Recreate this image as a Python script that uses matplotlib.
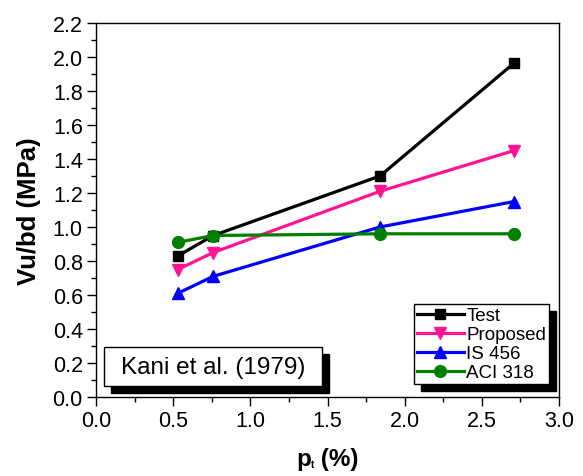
import matplotlib
matplotlib.use("Agg")
import matplotlib.pyplot as plt
from matplotlib.patches import Rectangle
from matplotlib.transforms import ScaledTranslation
from matplotlib.ticker import MultipleLocator

plt.rcParams['font.family'] = ['Liberation Sans', 'DejaVu Sans']

pt = [0.53, 0.76, 1.84, 2.71]
test = [0.83, 0.95, 1.30, 1.965]
proposed = [0.75, 0.85, 1.21, 1.45]
is456 = [0.61, 0.71, 1.00, 1.15]
aci318 = [0.91, 0.95, 0.96, 0.96]

series_names = ["Test", "Proposed", "IS 456", "ACI 318"]
colors = ["#000000", "#FF1493", "#0000FF", "#008000"]
markers = ["s", "v", "^", "o"]
msizes = [7.5, 9, 9, 8.5]
annotation = "Kani et al. (1979)"
xlabel_parts = ["p", "t", " (%)"]
ylabel = "Vu/bd (MPa)"

W, H = 583, 477
fig = plt.figure(figsize=(W / 100, H / 100), dpi=100)
ax = fig.add_axes([96/W, 79/H, 463/W, 374/H])

for vals, name, c, m, ms in zip([test, proposed, is456, aci318], series_names, colors, markers, msizes):
    ax.plot(pt, vals, color=c, marker=m, markersize=ms, linewidth=2.3, label=name,
            markeredgecolor=c, markerfacecolor=c, zorder=3)

ax.set_xlim(0, 3.0)
ax.set_ylim(0, 2.2)
ax.xaxis.set_major_locator(MultipleLocator(0.5))
ax.xaxis.set_minor_locator(MultipleLocator(0.25))
ax.yaxis.set_major_locator(MultipleLocator(0.2))
ax.yaxis.set_minor_locator(MultipleLocator(0.1))
ax.xaxis.set_major_formatter(matplotlib.ticker.FormatStrFormatter('%.1f'))
ax.yaxis.set_major_formatter(matplotlib.ticker.FormatStrFormatter('%.1f'))
ax.tick_params(axis='both', which='major', direction='out', length=6.5, width=1,
               labelsize=15.5, pad=3)
ax.tick_params(axis='both', which='minor', direction='out', length=3.5, width=1)
ax.tick_params(top=False, right=False, which='both')
for s in ax.spines.values():
    s.set_linewidth(1.0)

ax.set_ylabel(ylabel, fontsize=18.5, fontweight='bold', labelpad=8)

leg = ax.legend(loc='lower right', bbox_to_anchor=(0.978, 0.035), borderaxespad=0,
                fontsize=13.5, fancybox=False, frameon=True, framealpha=1,
                edgecolor='black', handlelength=2.5, handletextpad=0.12,
                labelspacing=0.1, borderpad=0.15, numpoints=1)
leg.get_frame().set_linewidth(1.0)
leg.set_zorder(10)

# annotation box with shadow
bx0, bx1 = 0.0173, 0.488
by0, by1 = 0.0294, 0.1337
shadow_off = ScaledTranslation(7/100, -7/100, fig.dpi_scale_trans)
ax.add_patch(Rectangle((bx0, by0), bx1 - bx0, by1 - by0, transform=ax.transAxes + shadow_off,
                       facecolor='black', edgecolor='black', zorder=8, clip_on=False))
ax.add_patch(Rectangle((bx0, by0), bx1 - bx0, by1 - by0, transform=ax.transAxes,
                       facecolor='white', edgecolor='black', linewidth=1.0, zorder=9, clip_on=False))
ax.text((bx0 + bx1) / 2, (by0 + by1) / 2, annotation, transform=ax.transAxes,
        ha='center', va='center', fontsize=17.5, zorder=10)

# x label built from parts (tiny subscript t)
base_y = (H - 466) / H
tp = fig.text(0, base_y, xlabel_parts[0], fontsize=17.5, fontweight='bold', va='baseline', ha='left')
tt = fig.text(0, (H - 468) / H, xlabel_parts[1], fontsize=7, fontweight='bold', va='baseline', ha='left')
tr = fig.text(0, base_y, xlabel_parts[2], fontsize=17.5, fontweight='bold', va='baseline', ha='left')
fig.canvas.draw()
r = fig.canvas.get_renderer()
wp = tp.get_window_extent(r).width
wt = tt.get_window_extent(r).width
wr = tr.get_window_extent(r).width
total = wp + wt + wr
x0 = 327.5 - total / 2
tp.set_x(x0 / W)
tt.set_x((x0 + wp) / W)
tr.set_x((x0 + wp + wt) / W)

# legend shadow
bb = leg.get_frame().get_window_extent(r).transformed(ax.transAxes.inverted())
ax.add_patch(Rectangle((bb.x0, bb.y0), bb.width, bb.height, transform=ax.transAxes + shadow_off,
                       facecolor='black', edgecolor='black', zorder=9, clip_on=False))

fig.savefig("out.png", dpi=100)
